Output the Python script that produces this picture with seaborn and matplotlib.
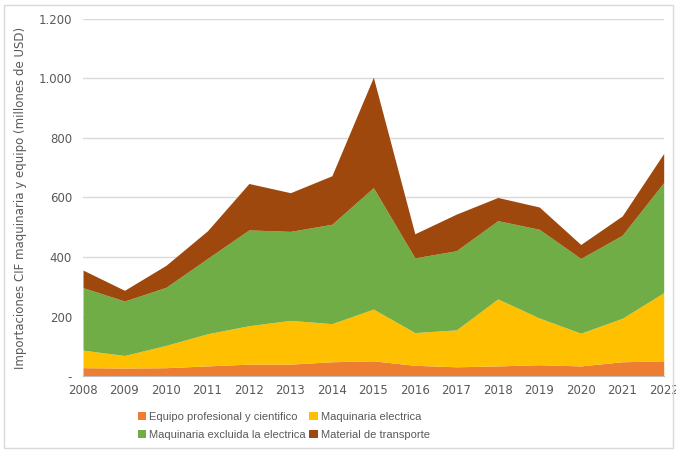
import matplotlib
matplotlib.use("Agg")
import matplotlib.pyplot as plt
import seaborn as sns
from matplotlib.patches import Rectangle
from matplotlib.ticker import FuncFormatter

# Data (millones de USD)
years = list(range(2008, 2023))
equipo = [28, 27, 28, 34, 40, 40, 48, 51, 36, 31, 34, 38, 34, 48, 51]
maq_electrica = [59, 42, 75, 108, 129, 147, 128, 174, 110, 124, 225, 157, 110, 146, 229]
maq_excluida = [210, 183, 195, 253, 322, 299, 334, 408, 251, 266, 263, 298, 251, 279, 370]
transporte = [59, 36, 74, 93, 156, 130, 163, 371, 81, 123, 78, 75, 47, 65, 98]

labels = ["Equipo profesional y cientifico", "Maquinaria electrica",
          "Maquinaria excluida la electrica", "Material de transporte"]
colors = ["#ED7D31", "#FFC000", "#70AD47", "#9E480E"]

sns.set_style("white")
plt.rcParams['font.family'] = ['DejaVu Sans']
text_color = "#595959"

fig = plt.figure(figsize=(6.76, 4.5), dpi=100)
ax = fig.add_axes([0.1228, 0.1644, 0.859, 0.7936])

polys = ax.stackplot(years, equipo, maq_electrica, maq_excluida, transporte,
                     labels=labels, colors=colors, linewidth=0)

ax.set_xlim(2008, 2022)
ax.set_ylim(0, 1200)
ax.set_xticks(years)
ax.set_yticks(range(0, 1201, 200))

def fmt(v, pos):
    if v == 0:
        return "-"
    return f"{int(v):,}".replace(",", ".")

ax.yaxis.set_major_formatter(FuncFormatter(fmt))
ax.grid(axis="y", color="#D9D9D9", linewidth=1)
ax.set_axisbelow(True)
for s in ["top", "right", "left"]:
    ax.spines[s].set_visible(False)
ax.spines["bottom"].set_color("#BFBFBF")
ax.tick_params(axis="x", colors=text_color, labelsize=8.5, length=4, color="#BFBFBF", pad=2)
ax.tick_params(axis="y", colors=text_color, labelsize=8.5, length=0, pad=8)
ax.set_ylabel("Importaciones CIF maquinaria y equipo (millones de USD)",
              color=text_color, fontsize=8.5, labelpad=8)

# legend rows: [equipo, electrica] / [excluida, transporte]
order = [0, 2, 1, 3]
leg = fig.legend([polys[i] for i in order], [labels[i] for i in order],
                 loc="center", bbox_to_anchor=(0.42, 0.054), ncol=2, frameon=False,
                 prop={"family": ["Liberation Sans", "DejaVu Sans"], "size": 8},
                 handlelength=0.75, handleheight=0.75, handletextpad=0.3,
                 columnspacing=0.3, labelspacing=0.7)
for t in leg.get_texts():
    t.set_color(text_color)

fig.patches.append(Rectangle((0.006, 0.004), 0.99, 0.985, transform=fig.transFigure,
                             fill=False, edgecolor="#D9D9D9", linewidth=1))

fig.savefig("out.png", dpi=100)
